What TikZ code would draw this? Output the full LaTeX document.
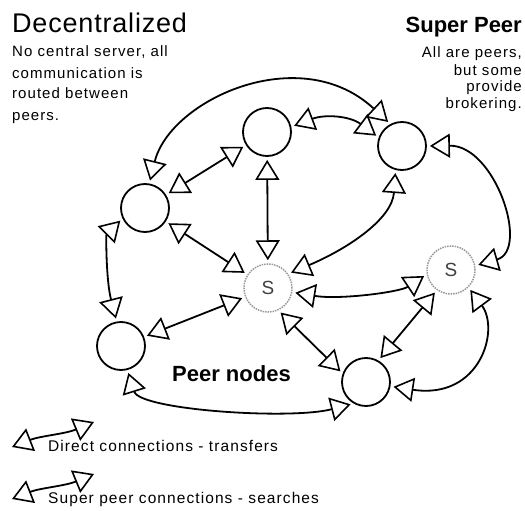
\documentclass[tikz,border=0pt]{standalone}
\usepackage{fontspec}
\setmainfont{Liberation Sans}
\newfontfamily\spaced[LetterSpace=7]{Liberation Sans}
\newfontfamily\titlefont[LetterSpace=3]{Liberation Sans}
\usetikzlibrary{arrows.meta}
\tikzset{
  conn/.style={line width=1.8pt, arrows={Triangle[open,length=20pt,width=24pt,line width=1.6pt]-Triangle[open,length=20pt,width=24pt,line width=1.6pt]}, shorten <=3pt, shorten >=3pt},
  peer/.style={circle, draw, line width=1.8pt, minimum size=48pt, inner sep=0pt},
  super/.style={circle, draw=black!40, densely dotted, line width=1.5pt, minimum size=48pt, inner sep=0pt, text=black!75, font=\fontsize{19}{19}\selectfont},
  small/.style={font=\spaced\fontsize{15}{18}\selectfont, inner sep=0pt},
  legend/.style={font=\spaced\fontsize{15.5}{18}\selectfont, inner sep=0pt, anchor=base west},
  head/.style={font=\fontsize{22}{22}\selectfont\bfseries, inner sep=0pt},
}
\begin{document}
\begin{tikzpicture}[x=1pt,y=1pt]
\fill[white] (0,0) rectangle (525,-511);
\useasboundingbox (0,0) rectangle (525,-511);

% titles and texts
\node[font=\titlefont\fontsize{27}{27}\selectfont, inner sep=0pt, anchor=base west] (t1) at (12,-33) {Decentralized};
\node[small, anchor=base west] (l1) at (12,-57) {No central server, all};
\node[small, anchor=base west] (l2) at (12,-78) {communication is};
\node[small, anchor=base west] (l3) at (12,-99) {routed between};
\node[small, anchor=base west] (l4) at (12,-120) {peers.};

\node[head, anchor=base east] (t2) at (522,-33) {Super Peer};
\node[small, anchor=base east] (r1) at (522,-58) {All are peers,};
\node[small, anchor=base east] (r2) at (522,-75) {but some};
\node[small, anchor=base east] (r3) at (522,-92) {provide};
\node[small, anchor=base east] (r4) at (522,-109) {brokering.};

\node[head, anchor=base west] (pn) at (172,-381) {Peer nodes};

% nodes
\node[peer] (P1) at (267,-132) {};
\node[peer] (P2) at (402,-146) {};
\node[peer] (P3) at (145,-208) {};
\node[peer] (P4) at (121,-346) {};
\node[peer] (P5) at (366,-382) {};
\node[super] (S1) at (268,-288) {S};
\node[super] (S2) at (451,-270) {S};

% connectors
\draw[conn] (P3.80) .. controls (170,-100) and (300,-40) .. (P2.118);
\draw[conn] (P1.12) .. controls (325,-114) and (350,-116) .. (P2.160);
\draw[conn] (P3) -- (P1);
\draw[conn] (P1) -- (S1);
\draw[conn] (P3) -- (S1);
\draw[conn] (P3.205) .. controls (106,-235) and (106,-280) .. (P4.100);
\draw[conn] (P4) -- (S1);
\draw[conn] (P4.-75) .. controls (140,-410) and (290,-420) .. (P5.240);
\draw[conn] (S1.-65) -- (P5.160);
\draw[conn] (P2.-105) .. controls (392,-220) and (345,-250) .. (S1.35);
\draw[conn] (S1.-10) .. controls (340,-300) and (400,-292) .. (S2.190);
\draw[conn] (S2.-125) -- (P5.60);
\draw[conn] (S2.-45) .. controls (500,-330) and (480,-400) .. (P5.-10);
\draw[conn] (P2.0) .. controls (495,-145) and (530,-250) .. (S2.10);

% legend
\coordinate (a1) at (12,-447);
\coordinate (b1) at (94,-422);
\coordinate (a2) at (12,-499);
\coordinate (b2) at (94,-474);
\draw[conn, shorten <=0pt, shorten >=0pt] (a1) .. controls (40,-436) and (65,-434) .. (b1);
\draw[conn, shorten <=0pt, shorten >=0pt] (a2) .. controls (40,-488) and (65,-486) .. (b2);
\node[legend] (d1) at (48,-451) {Direct connections - transfers};
\node[legend] (d2) at (48,-503) {Super peer connections - searches};
\end{tikzpicture}
\end{document}
